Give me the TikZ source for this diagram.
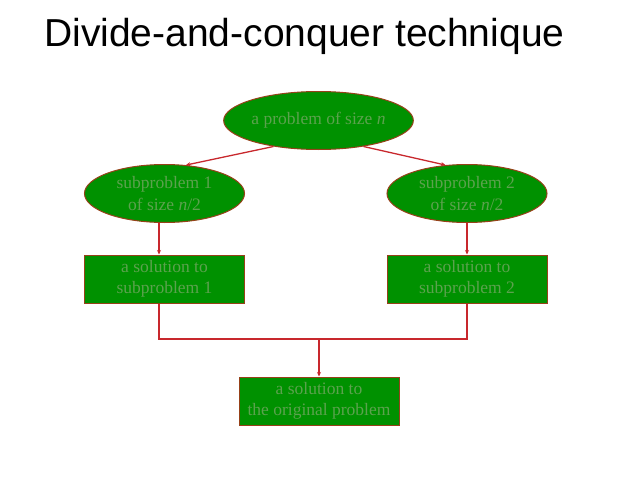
\documentclass[tikz,border=0pt]{standalone}
\usepackage{fontspec}
\setmainfont{Liberation Serif}
\newfontfamily\titlefont{Liberation Sans}
\usetikzlibrary{shapes.geometric,arrows.meta}
\definecolor{boxgreen}{RGB}{0,145,0}
\definecolor{boxborder}{RGB}{150,65,25}
\definecolor{txtgreen}{RGB}{92,162,78}
\definecolor{linered}{RGB}{200,40,45}
\tikzset{
  ellbox/.style={ellipse, draw=boxborder, fill=boxgreen, line width=1pt,
    minimum width=160pt, minimum height=58pt, inner sep=0pt,
    text=txtgreen, align=center, font=\fontsize{17.5}{21.5}\selectfont},
  recbox/.style={rectangle, draw=boxborder, fill=boxgreen, line width=1pt,
    minimum width=160pt, minimum height=48pt, inner sep=0pt,
    text=txtgreen, align=center, font=\fontsize{17.5}{21.5}\selectfont},
  conn/.style={draw=linered, line width=1.3pt},
  arr/.style={conn, -{Stealth[length=4.5pt,width=4pt]}}
}
\begin{document}
\begin{tikzpicture}[x=1pt,y=-1pt]
\useasboundingbox (0,0) rectangle (638,479);
\node[anchor=base west, inner sep=0pt, font=\titlefont\fontsize{39}{42}\selectfont] (title) at (44,46) {Divide-and-conquer technique};
\node[ellbox] (top) at (318.5,120.5) {a problem of size \textit{n}};
\node[ellbox] (l1) at (164.5,193.5) {subproblem 1\\ of size \textit{n}/2};
\node[ellbox] (r1) at (467,193.5) {subproblem 2\\ of size \textit{n}/2};
\node[recbox] (lb) at (164.5,279) {a solution to\\ subproblem 1};
\node[recbox] (rb) at (467,279) {a solution to\\ subproblem 2};
\node[recbox] (fb) at (319,401) {a solution to\\ the original problem};
\coordinate (mid) at (319,339);
\draw[arr] (top.210) -- (l1.53);
\draw[arr] (top.330) -- (r1.127);
\draw[arr] ([xshift=-5.5pt]l1.south) -- ([xshift=-5.5pt]lb.north);
\draw[arr] (r1.south) -- (rb.north);
\draw[conn] ([xshift=-5.5pt]lb.south) |- (mid) -| (rb.south);
\draw[arr] (mid) -- (fb.north);
\end{tikzpicture}
\end{document}
